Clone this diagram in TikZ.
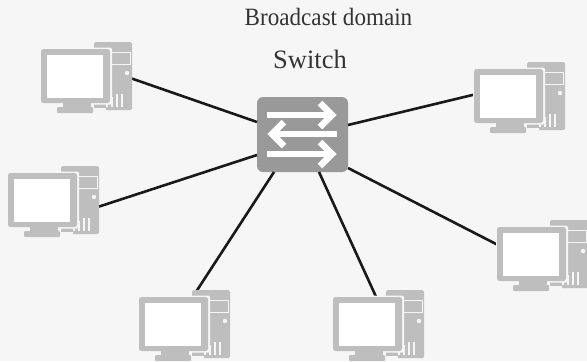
\documentclass[tikz,border=0pt]{standalone}
\usepackage{fontspec}
\setmainfont{Liberation Serif}
\definecolor{bgc}{HTML}{F6F6F6}
\definecolor{pcc}{HTML}{BEBEBE}
\definecolor{swc}{HTML}{999999}
\tikzset{
  pcbox/.style={minimum width=91bp,minimum height=70bp,inner sep=0pt,outer sep=0pt},
  swbox/.style={fill=swc,rounded corners=6bp,minimum width=91bp,minimum height=75bp,inner sep=0pt,outer sep=0pt},
  lnk/.style={line width=2.6bp,black!90},
  title/.style={text=black!80,inner sep=0pt,anchor=base},
  arr/.style={white,line width=6.5bp},
  pcpic/.pic={
    \fill[pcc,rounded corners=1.5bp] (53,0) rectangle (91,68);
    \fill[bgc] (51,66) rectangle (65,70);
    \draw[bgc,line width=1bp] (69,10) rectangle (89,22);
    \fill[bgc] (86,31) circle (2.2);
    \foreach \vx/\vy in {66/60,71/55,76/52,81/52}
      {\draw[bgc,line width=1.5bp] (\vx,\vy) -- (\vx,65);}
    \fill[bgc,rounded corners=2bp] (-1,5.5) rectangle (71,62.5);
    \fill[pcc,rounded corners=2.5bp] (0,7) rectangle (69,61);
    \fill[white] (6,13) rectangle (62,55.5);
    \fill[pcc] (22,61) rectangle (50,65);
    \fill[pcc,rounded corners=1bp] (16,65) rectangle (52,71);
  }
}
\begin{document}
\begin{tikzpicture}[x=1bp,y=-1bp]
\useasboundingbox (0,0) rectangle (587,361);
\fill[bgc] (0,0) rectangle (587,361);
\node[title,font=\fontsize{25}{28}\selectfont] (ttl) at (328.5,25.5) {\scalebox{0.928}[1]{Broadcast domain}};
\node[title,font=\fontsize{26.6}{30}\selectfont] (swl) at (310,68) {Switch};
\node[swbox] (sw) at (302.5,134.5) {};
\node[pcbox] (pc1) at (86.5,77) {};
\node[pcbox] (pc2) at (53.5,201) {};
\node[pcbox] (pc3) at (519.5,97) {};
\node[pcbox] (pc4) at (542.5,255) {};
\node[pcbox] (pc5) at (184.5,325) {};
\node[pcbox] (pc6) at (378.5,325) {};
\draw[lnk] (sw.west |- 0,122) -- (pc1.-2.5);
\draw[lnk] (sw.west |- 0,155) -- (pc2.-7.4);
\draw[lnk] (sw.east |- 0,125) -- (pc3.177.5);
\draw[lnk] (sw.east |- 0,168) -- (pc4.167.6);
\draw[lnk,shorten >=-8bp] (274,172) -- (pc5.70.9);
\draw[lnk,shorten >=-7bp] (319,172) -- (pc6.99.7);
\foreach \x/\y in {41/42,8/166,474/62,497/220,139/290,333/290}
  \pic at (\x,\y) {pcpic};
\foreach \yy in {115,154}{
  \draw[arr] (267,\yy) -- (332,\yy);
  \draw[arr] (320,\yy-12) -- (332,\yy) -- (320,\yy+12);
}
\draw[arr] (337,134) -- (272,134);
\draw[arr] (284,122) -- (272,134) -- (284,146);
\end{tikzpicture}
\end{document}
